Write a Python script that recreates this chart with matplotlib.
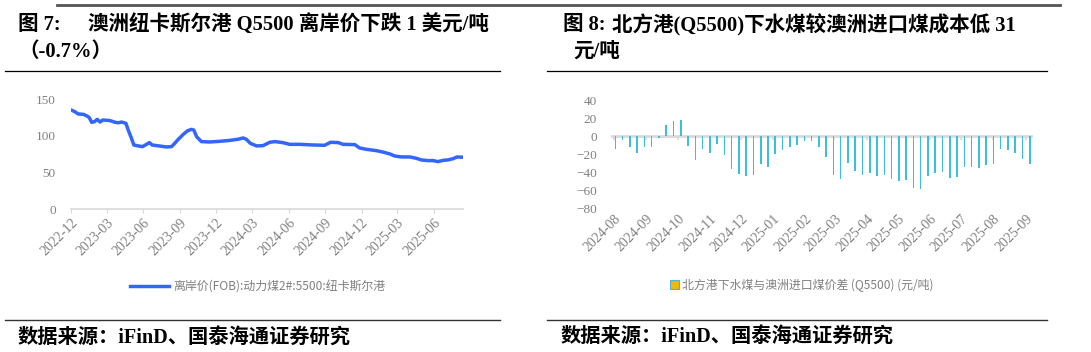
import pandas as pd
import matplotlib
matplotlib.use("Agg")
import matplotlib.pyplot as plt
import matplotlib.dates as mdates
from matplotlib.lines import Line2D
from matplotlib.patches import Patch

plt.rcParams['font.family'] = ['Liberation Serif', 'Noto Sans CJK SC', 'DejaVu Sans']

# 图7: 纽卡斯尔港 Q5500 离岸价 (美元/吨)
fob_dates = [
    "2022-12-01", "2022-12-11", "2022-12-19", "2023-01-01", "2023-01-11", "2023-01-16",
    "2023-01-22", "2023-01-29", "2023-02-05", "2023-02-12", "2023-02-19", "2023-03-09",
    "2023-03-22", "2023-03-30", "2023-04-07", "2023-04-18", "2023-04-24", "2023-05-02",
    "2023-05-08", "2023-05-19", "2023-05-30", "2023-06-09", "2023-06-16", "2023-06-23",
    "2023-07-11", "2023-07-29", "2023-08-11", "2023-08-19", "2023-08-28", "2023-09-09",
    "2023-09-20", "2023-09-30", "2023-10-06", "2023-10-13", "2023-10-25", "2023-11-15",
    "2023-12-10", "2024-01-05", "2024-01-25", "2024-02-07", "2024-02-15", "2024-02-25",
    "2024-03-12", "2024-03-28", "2024-04-14", "2024-04-27", "2024-05-16", "2024-06-03",
    "2024-06-28", "2024-08-01", "2024-08-30", "2024-09-14", "2024-10-03", "2024-10-15",
    "2024-11-14", "2024-11-26", "2024-12-13", "2025-01-07", "2025-01-24", "2025-02-10",
    "2025-02-22", "2025-03-11", "2025-04-01", "2025-04-18", "2025-04-30", "2025-05-17",
    "2025-05-30", "2025-06-11", "2025-06-24", "2025-07-06", "2025-07-19", "2025-07-29",
    "2025-08-13",
]
fob_values = [
    135.5, 133, 130, 129.5, 127, 125,
    118.6, 119.5, 122.7, 119, 121.8, 121,
    118.6, 118, 119, 117.3, 108, 97,
    87.7, 86.4, 85.5, 88.6, 91, 87.7,
    86.4, 85, 85.5, 90, 95.5, 102,
    107, 109, 108, 99, 92.3, 91.8,
    92.7, 94, 95.5, 97.3, 95.5, 90,
    86.4, 86.8, 91.4, 92.3, 91, 88.6,
    88.6, 87.7, 87.3, 91.4, 91, 88.6,
    88.2, 83.6, 81.8, 80, 78, 75.5,
    72.7, 71.4, 71.4, 69.5, 67.3, 66.4,
    66.4, 65, 66.8, 67.3, 69, 71.4,
    71,
]
fob_label = "离岸价(FOB):动力煤2#:5500:纽卡斯尔港"

# 图8: 北方港下水煤与澳洲进口煤价差 (元/吨), weekly
spread_start = "2024-08-02"
spread_values = [
    -14, -4.5, -12.5, -19, -12.5, -12, -2, 12, 16.6, 17.7,
    -10.5, -27, -14.7, -19, -8.3, -21, -37, -42, -44.5,
    -43.4, -31, -34, -19.6, -15.5, -12.5, -10, -5, -5.7, -12.5,
    -23.4, -43, -48, -29.4, -38.5, -43, -40.8, -43.8, -43,
    -47.5, -49.8, -48.7, -57.7, -58.5, -44, -40.8, -39.6, -46, -45,
    -34.3, -34.3, -35.8, -32, -31.3, -14.7, -15.8, -19.2, -25, -31,
]
spread_label = "北方港下水煤与澳洲进口煤价差 (Q5500) (元/吨)"

fob_dates = pd.to_datetime(fob_dates)
spread_dates = pd.date_range(spread_start, periods=len(spread_values), freq="7D")

W, H = 1091, 352
GREY_TXT = "#808080"
GREY_AX = "#d9d9d9"


def box(x0, y0, x1, y1):
    return [x0 / W, 1 - y1 / H, (x1 - x0) / W, (y1 - y0) / H]


def hline(x0, x1, y, color, lw):
    fig.add_artist(Line2D([x0 / W, x1 / W], [1 - y / H, 1 - y / H],
                          transform=fig.transFigure, color=color, lw=lw))


fig = plt.figure(figsize=(W / 100, H / 100), dpi=100)

# ---- left chart ----
ax1 = fig.add_axes(box(71, 99.3, 463, 209.3))
ax1.plot(fob_dates, fob_values, color="#3366ff", lw=2.5, solid_capstyle="round")
ax1.set_ylim(0, 150)
ax1.set_yticks([0, 50, 100, 150])
ax1.set_xlim(fob_dates[0], fob_dates[-1])
for s in ["top", "right", "left"]:
    ax1.spines[s].set_visible(False)
ax1.spines["bottom"].set_color(GREY_AX)
ax1.spines["bottom"].set_linewidth(1.2)
ax1.xaxis.set_major_locator(mdates.MonthLocator(bymonth=[3, 6, 9, 12]))
ax1.xaxis.set_major_formatter(mdates.DateFormatter("%Y-%m"))
ax1.tick_params(axis="x", length=3, color=GREY_AX, labelcolor=GREY_TXT, labelsize=10, pad=2)
ax1.tick_params(axis="y", length=0, labelcolor=GREY_TXT, labelsize=9.5, pad=11)
plt.setp(ax1.get_xticklabels(), rotation=45, ha="right", rotation_mode="anchor")

legend_font = {"family": ["Noto Sans CJK SC"], "size": 8.6, "weight": "light"}
ax1.legend(handles=[Line2D([], [], color="#3366ff", lw=2.5)], labels=[fob_label],
           loc="center", bbox_to_anchor=(258 / W, 1 - 287 / H), bbox_transform=fig.transFigure,
           frameon=False, prop=legend_font,
           labelcolor=GREY_TXT, handlelength=3.2, handletextpad=0.4)

# ---- right chart ----
ax2 = fig.add_axes(box(612.2, 100, 1031.3, 208.3))
ax2.bar(spread_dates, spread_values, width=1.5, color="#3dbde0")
ax2.set_ylim(-80, 40)
ax2.set_yticks(range(-80, 41, 20))
ax2.set_xlim(spread_dates[0] - pd.Timedelta(days=3), spread_dates[-1] + pd.Timedelta(days=1.5))
for s in ax2.spines.values():
    s.set_visible(False)
ax2.xaxis.set_major_locator(mdates.MonthLocator())
ax2.xaxis.set_major_formatter(mdates.DateFormatter("%Y-%m"))
ax2.tick_params(axis="x", length=0, labelcolor=GREY_TXT, labelsize=10, pad=3)
ax2.tick_params(axis="y", length=0, labelcolor=GREY_TXT, labelsize=9.5, pad=11)
plt.setp(ax2.get_xticklabels(), rotation=45, ha="right", rotation_mode="anchor")

# zero line with month ticks
zero = ax2.secondary_xaxis(2 / 3)
zero.xaxis.set_major_locator(mdates.MonthLocator())
zero.tick_params(direction="in", length=3, color=GREY_AX, width=1.2,
                 labeltop=False, labelbottom=False)
for s in zero.spines.values():
    s.set_color(GREY_AX)
    s.set_linewidth(2)

ax2.legend(handles=[Patch(facecolor="#f2b705", edgecolor="#4fb3d9", lw=0.8)], labels=[spread_label],
           loc="center", bbox_to_anchor=(802 / W, 1 - 285 / H), bbox_transform=fig.transFigure,
           frameon=False, prop=legend_font,
           labelcolor=GREY_TXT, handlelength=0.7, handleheight=0.7, handletextpad=0.3)

# ---- titles, rules, sources ----
hline(57, 1060, 5, "#555555", 2)
hline(5, 500, 71, "black", 0.9)
hline(547, 1047, 71, "black", 0.9)
hline(5, 500, 320, "#333333", 1)
hline(547, 1047, 320, "#333333", 1)

title_kw = dict(fontsize=14.8, fontweight="bold", va="center", ha="left", color="black")
fig.text(18 / W, 1 - 25 / H, "图 7:", **title_kw)
fig.text(88 / W, 1 - 25 / H, "澳洲纽卡斯尔港 Q5500 离岸价下跌 1 美元/吨", **title_kw)
fig.text(18 / W, 1 - 52 / H, "（-0.7%）", **title_kw)
fig.text(563 / W, 1 - 25 / H, "图 8:", **title_kw)
fig.text(612 / W, 1 - 25 / H, "北方港(Q5500)下水煤较澳洲进口煤成本低 31", **title_kw)
fig.text(573 / W, 1 - 52 / H, "元/吨", **title_kw)

src_kw = dict(fontsize=14.6, fontweight="bold", va="center", ha="left", color="black")
fig.text(18 / W, 1 - 338 / H, "数据来源：iFinD、国泰海通证券研究", **src_kw)
fig.text(561 / W, 1 - 337 / H, "数据来源：iFinD、国泰海通证券研究", **src_kw)

fig.savefig("out.png", dpi=100)
